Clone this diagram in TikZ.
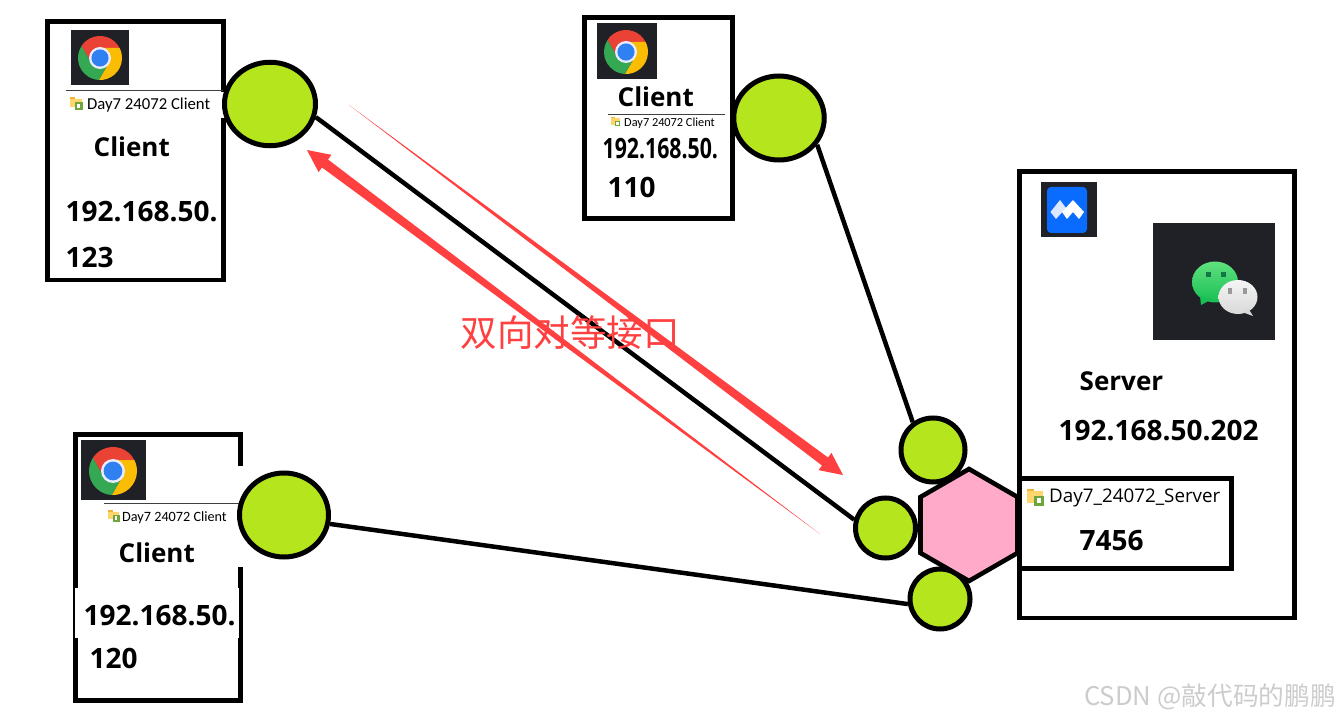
\documentclass[tikz,border=0pt]{standalone}
\usepackage{fontspec}
\setmainfont{Open Sans}
\newfontfamily\cjkfont{Noto Sans CJK SC}
\newfontfamily\tabfont{Carlito}
\usetikzlibrary{calc,shapes.geometric}
\definecolor{portgreen}{HTML}{B5E61D}
\definecolor{hexpink}{HTML}{FFAAC9}
\definecolor{notered}{HTML}{FF4040}
\definecolor{icondark}{HTML}{202126}
\tikzset{
  framebox/.style={
    draw,
    fill=white,
    line width=4.8pt,
    inner sep=0pt
  },
  port/.style={
    shape = ellipse,
    draw,
    fill=portgreen,
    line width=5pt,
    inner sep=0pt
  },
  link/.style={
    line width=4.5pt
  },
  bigtext/.style={
    anchor=west,
    inner sep=0pt,
    font=\bfseries\fontsize{28}{30}\selectfont
  },
  nametext/.style={
    bigtext,
    font=\bfseries\fontsize{26}{30}\selectfont
  },
  smalltext/.style={
    anchor=west,
    inner sep=0pt,
    font=\tabfont\fontsize{16.7}{19}\selectfont
  },
  rulerline/.style={
    draw=black!75,
    line width=1.3pt
  },
  redarrow/.style={
    fill=notered
  },
  chromeicon/.pic={
    \begin{scope}[yscale=-1]
      \fill[fill={rgb,255:red,234;green,67;blue,53}] (27:1) arc (27:147:1) -- (210:.46) -- (90:.46) -- cycle;
      \fill[fill={rgb,255:red,251;green,188;blue,4}] (-93:1) arc (-93:27:1) -- (90:.46) -- (330:.46) -- cycle;
      \fill[fill={rgb,255:red,52;green,168;blue,83}] (147:1) arc (147:267:1) -- (330:.46) -- (210:.46) -- cycle;
      \fill[white!92!blue] (0,0) circle (.5);
      \fill[fill={rgb,255:red,47;green,128;blue,240}] (0,0) circle (.39);
    \end{scope}
  },
  foldericon/.pic={
    \fill[fill={rgb,255:red,240;green,180;blue,50}] (0,0) rectangle (.45,.2);
    \fill[fill={rgb,255:red,255;green,214;blue,110}] (0,.15) rectangle (1,.85);
    \fill[fill={rgb,255:red,110;green,165;blue,60}] (.42,.42) rectangle (1.05,1.05);
    \fill[white] (.6,.58) rectangle (.85,.88);
  }
}
\newcommand{\taperarrow}[2]{%
  \coordinate (neck) at ($(#1)!22.5pt!(#2)$);
  \fill[redarrow] (#1) -- ($(neck)!10.8pt!90:(#2)$) -- ($(neck)!5pt!90:(#2)$) -- (#2)
    -- ($(neck)!5pt!-90:(#2)$) -- ($(neck)!10.8pt!-90:(#2)$) -- cycle;
}
\begin{document}
\begin{tikzpicture}[x=1pt,y=-1pt]
  \useasboundingbox (0,0) rectangle (1339,719);

  % client frames
  \node[framebox,minimum width=176pt,minimum height=258.5pt] (framea) at (135.5,150.75) {};
  \node[framebox,minimum width=148pt,minimum height=201pt] (frameb) at (658.5,118) {};
  \node[framebox,minimum width=165pt,minimum height=265.8pt] (framec) at (158,567.4) {};
  \node[framebox,minimum width=275pt,minimum height=446.5pt] (frames) at (1157,394.75) {};

  % pasted patches over the frames
  \fill[white] (221,92.5) rectangle (226.5,118);
  \fill[white] (238,466) rectangle (243.5,567);
  \fill[white] (75,588) rectangle (239,638);

  % icons
  \foreach \xa/\ya/\xb/\yb/\cx/\cy/\r in {71/30/129/85/100/58/22,597/23/657/79/626/52/22,81/440/146/500/113/471/24}{
      \fill[icondark] (\xa,\ya) rectangle (\xb,\yb);
      \pic[scale=\r] at (\cx,\cy) {chromeicon};
    }
  \foreach \x/\y/\s in {70/97/12,611/117/9,108/510/11}{
      \pic[scale=\s] at (\x,\y) {foldericon};
    }

  \draw[rulerline] (66,90.7) -- (223,90.7);
  \draw[rulerline,line width=1pt] (608,115) -- (725,115);
  \draw[rulerline] (104,503.7) -- (239,503.7);

  % client a
  \node[smalltext] (fola) at (87,105.5) {Day7 24072 Client};
  \node[nametext] (namea) at (93.5,147) {Client};
  \node[bigtext] (ipa) at (65.5,212) {192.168.50.};
  \node[bigtext] (hosta) at (65.5,258) {123};

  % client b
  \node[nametext] (nameb) at (617.5,97) {Client};
  \node[smalltext,font=\tabfont\fontsize{12.3}{14}\selectfont] (folb) at (624,123.5) {Day7 24072 Client};
  \node[bigtext,xscale=.76,transform shape] (ipb) at (602.5,149) {192.168.50.};
  \node[bigtext] (hostb) at (607.5,187) {110};

  % client c
  \node[smalltext,font=\tabfont\fontsize{14.2}{16}\selectfont] (folc) at (122,518) {Day7 24072 Client};
  \node[nametext] (namec) at (118.5,553) {Client};
  \node[bigtext] (ipc) at (83.5,616) {192.168.50.};
  \node[bigtext] (hostc) at (89.5,658) {120};

  % server icons
  \fill[icondark] (1041,182) rectangle (1097,237);
  \fill[rounded corners=4pt,fill={rgb,255:red,10;green,108;blue,255}] (1047,187) rectangle (1087,233);
  \fill[fill={rgb,255:red,220;green,232;blue,255}] (1050.5,212) -- (1060,200) -- (1066,208) -- (1056,219) -- cycle;
  \fill[white] (1062,212) -- (1073,200) -- (1084,212) -- (1079,219) -- (1073,212) -- (1067,219) -- cycle;
  \fill[icondark] (1153,223) rectangle (1275,340);
  \shade[top color={rgb,255:red,95;green,225;blue,125},bottom color={rgb,255:red,25;green,190;blue,85}] (1215,282) ellipse (23 and 20.5);
  \fill[fill={rgb,255:red,25;green,190;blue,85}] (1200,296) -- (1201,305) -- (1212,299) -- cycle;
  \fill[fill={rgb,255:red,20;green,120;blue,70}] (1206,272) rectangle (1211,277);
  \fill[fill={rgb,255:red,20;green,120;blue,70}] (1221,272) rectangle (1226,277);
  \shade[top color=white!96!black,bottom color=white!85!black] (1238,297) ellipse (19.5 and 17);
  \fill[white!85!black] (1248,308) -- (1253,316) -- (1242,312) -- cycle;
  \fill[black!40] (1228,288) rectangle (1232,294);
  \fill[black!40] (1243,288) rectangle (1247,294);
  \node[nametext] (names) at (1079.5,381) {Server};
  \node[bigtext] (ips) at (1058.5,431) {192.168.50.202};

  % ports
  \node[port,minimum width=91pt,minimum height=83.5pt] (porta) at (270,104) {};
  \node[port,minimum width=90.5pt,minimum height=84pt] (portb) at (779,118) {};
  \node[port,minimum width=89pt,minimum height=84pt] (portc) at (284,515) {};
  \node[port,minimum width=64pt,minimum height=64pt] (portsb) at (933,450) {};
  \node[port,minimum width=60pt,minimum height=60pt] (portsa) at (885.5,528) {};
  \node[port,minimum width=60pt,minimum height=60pt] (portsc) at (940,599) {};

  % links
  \draw[link] (porta.-16) -- (portsa.165);
  \draw[link] (portb.-35) -- (portsb.126);
  \draw[link] (portc.-11) -- (portsc.-171);

  % hexagon and server port box
  \node[regular polygon,regular polygon sides=6,shape border rotate=30,minimum size=112pt,inner sep=0pt,draw,fill=hexpink,line width=4.6pt] (hex) at (969,525) {};
  \node[framebox,minimum width=212pt,minimum height=90pt] (frameport) at (1125.5,523.5) {};
  \pic[scale=16] at (1027,489) {foldericon};
  \node[smalltext,font=\fontsize{18.8}{21}\selectfont] (fols) at (1049,497.5) {Day7\_24072\_Server};
  \node[bigtext] (ports) at (1079.5,541) {7456};

  % red notes
  \coordinate (tipa) at (307,150);
  \coordinate (taila) at (820,534);
  \coordinate (tipb) at (843,475);
  \coordinate (tailb) at (349,105);
  \taperarrow{tipa}{taila}
  \taperarrow{tipb}{tailb}
  \node[inner sep=0pt,text=notered,font=\cjkfont\fontsize{36.5}{40}\selectfont] (note) at (570,333) {双向对等接口};

  \node[anchor=east,inner sep=0pt,text=black!20,font=\cjkfont\fontsize{25.7}{27}\selectfont] (mark) at (1336,697) {CSDN @敲代码的鹏鹏};
\end{tikzpicture}
\end{document}
